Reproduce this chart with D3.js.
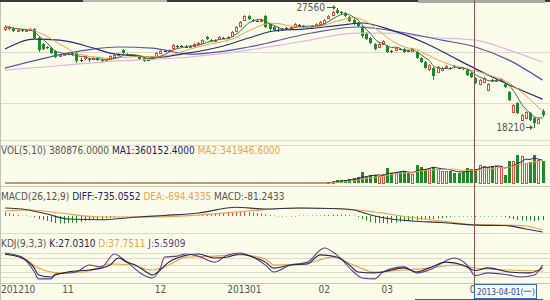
<!DOCTYPE html>
<html>
<head>
<meta charset="utf-8">
<script src="https://cdnjs.cloudflare.com/ajax/libs/d3/7.8.5/d3.min.js"></script>
<style>
  html, body { margin: 0; padding: 0; background: #fcfcea; }
  svg { display: block; }
</style>
</head>
<body>
<div id="chart"></div>
<script>
// month ticks and how many trading days each month has on the chart
var months = ["201210", "11", "12", "201301", "02", "03", "04"];
var monthDays = [15, 22, 20, 19, 15, 21, 17];

var opens = [25920,26000,26000,25770,25840,25770,25840,25920,25220,24750,
  24520,24440,24210,23820,23890,23970,24050,24050,23500,23660,
  23580,23580,23660,23500,23430,23580,23740,23890,24280,23970,
  23890,23820,23820,23660,23500,23580,23820,24050,24210,24210,
  24440,24600,24600,24520,24520,24600,24750,24830,25300,25060,
  24990,25140,25220,25220,25380,25770,26160,26620,26940,26620,
  26550,26550,26940,26310,26080,25840,25920,26000,26000,26160,
  26230,26160,26000,26000,26160,26310,26390,26780,27010,27400,
  27250,27170,26860,26620,26390,26080,25610,25220,24750,24520,
  24750,24600,24210,24280,24360,24360,24210,24210,24130,23660,
  23350,22800,22880,22570,22720,22960,22880,23040,22880,22880,
  22720,22490,22100,21630,21790,21160,21940,21870,21870,21630,
  21010,19450,20150,18820,18980,19370,18980,18590,19530];
var highs = [26230,26160,26080,25920,25920,25920,26000,26000,25300,24830,
  24600,24520,24280,23970,24050,24130,24130,24130,23660,23890,
  23660,23740,23740,23580,23580,23890,23970,24050,24360,24050,
  23970,23890,23890,23740,23580,23820,24130,24280,24280,24360,
  24750,24670,24670,24670,24670,24830,24910,25140,25380,25140,
  25140,25380,25300,25380,25770,26160,26550,27010,27010,26700,
  26620,26700,27010,26390,26160,26000,26000,26080,26160,26390,
  26310,26230,26080,26230,26390,26550,26700,27010,27330,27560,
  27330,27250,26940,26700,26470,26160,25690,25300,24830,24830,
  25060,24670,24280,24520,24440,24440,24280,24440,24210,23740,
  23430,23190,22960,23040,22960,23110,22960,23110,22960,22960,
  22800,22570,22180,22020,22180,21710,22020,22020,22100,21710,
  21090,20070,20230,19290,19530,19450,19060,18980,19680];
var lows = [25770,25840,25690,25690,25690,25690,25770,25140,24130,24280,
  24360,23970,23660,23740,23820,23890,23820,23270,23350,23500,
  23350,23500,23430,23270,23350,23500,23660,23820,23970,23820,
  23740,23740,23500,23350,23430,23500,23740,23970,24130,24130,
  24360,24440,24520,24440,24440,24520,24670,24750,25060,24910,
  24910,25060,25140,25140,25300,25690,26080,26550,26620,26470,
  26470,26470,26000,25770,25770,25690,25770,25840,25920,26080,
  26160,26000,25920,25920,26080,26230,26310,26700,26940,27090,
  27090,26860,26470,26230,26080,25220,25060,24750,24280,24440,
  24670,24050,24050,24210,24280,24050,24130,24130,23580,23270,
  22800,22650,21940,22490,22650,22880,22800,22880,22800,22720,
  22260,22100,21630,21550,21710,21090,21790,21790,21790,21320,
  20310,19370,19290,18750,18900,18750,18210,18510,19060];
var closes = [26080,26080,25770,25840,25770,25840,25920,25220,24280,24360,
  24440,24050,23740,23890,23970,24050,23970,23430,23500,23820,
  23500,23660,23500,23430,23500,23820,23890,23970,24050,23890,
  23820,23820,23580,23430,23500,23740,24050,24210,24210,24280,
  24670,24600,24600,24520,24600,24750,24830,25060,25140,24990,
  25060,25300,25220,25300,25690,26080,26470,26940,26700,26550,
  26550,26620,26080,25920,25840,25840,25920,26000,26080,26310,
  26230,26080,26000,26160,26310,26470,26620,26940,27250,27170,
  27250,26940,26550,26310,26160,25380,25140,24830,24360,24750,
  24990,24130,24210,24440,24360,24130,24210,24360,23660,23350,
  22880,23110,22260,22960,22880,23040,22880,23040,22880,22800,
  22330,22180,21710,21940,22100,21630,21940,21940,22020,21400,
  20380,19990,19370,19210,19450,18820,18590,18900,19210];

var volumes = [0,0,0,0,0,0,0,0,0,0, 0,0,0,0,0,0,0,0,0,0,
  0,0,0,0,0,0,0,0,0,0, 0,0,0,0,0,0,0,0,0,0,
  0,0,0,0,0,0,0,0,0,0, 0,0,0,0,0,0,0,0,0,0,
  0,0,0,0,0,0,0,0,0,0, 0,0,0,0,0,0,0,
  27000,54000,82000,82000,82000,109000,136000,163000,299000,163000,
  218000,218000,190000,245000,408000,272000,299000,299000,326000,272000,
  245000,490000,435000,381000,408000,435000,381000,326000,326000,326000,
  272000,272000,299000,408000,381000,380876,490000,462000,435000,462000,
  462000,462000,218000,598000,598000,762000,734000,544000,571000,762000,
  626000,598000];

var macdBars = [320,240,160,80,40,40,-40,-120,-240,-320,
  -400,-480,-560,-600,-600,-560,-520,-560,-480,-400,
  -360,-320,-280,-240,-200,-160,-80,-40,-40,-40,
  -40,-40,-80,-80,-80,-40,40,40,40,40,
  80,40,40,40,40,40,80,120,120,120,
  160,200,200,240,280,320,320,360,320,280,
  240,200,160,80,40,-40,-40,-40,-40,-40,
  40,40,40,40,40,40,80,80,120,120,
  120,120,80,40,-80,-240,-360,-480,-560,-560,
  -560,-600,-560,-520,-480,-440,-400,-360,-360,-320,
  -280,-240,-240,-200,-160,-120,-80,-40,-40,-40,
  -40,-40,-81,-40,-40,-40,-40,-40,-40,-80,
  -160,-240,-320,-360,-360,-360,-400,-360,-320];

// long moving averages as [day index, price]
var ma20Pts = [[0,24360],[7,25140],[13,25060],[21,24440],[25,24050],[29,23890],[37,23740],
  [42,23970],[52,24600],[58,25220],[64,25770],[71,25920],[76,26080],[80,26230],[85,26390],
  [92,25840],[100,24830],[108,23500],[116,22180],[128,20460]];
var ma40Pts = [[0,22880],[15,24050],[21,24360],[27,24520],[35,24440],[44,23970],[58,24520],
  [73,25610],[84,26080],[94,25690],[104,25060],[112,24520],[120,23500],[128,21940]];
var ma60Pts = [[0,22720],[12,23040],[23,23350],[44,23740],[58,24280],[70,24910],[84,25610],
  [92,25610],[100,25300],[112,25060],[120,24280],[128,23350]];

var diffPts = [[0,640],[4,560],[10,160],[15,-240],[23,-300],[30,-120],[38,40],[46,240],[55,700],
  [62,560],[70,640],[78,600],[83,480],[87,80],[92,-240],[97,-400],[104,-520],[112,-735],
  [119,-760],[124,-1040],[128,-1280]];
var deaPts = [[0,400],[6,480],[13,240],[23,-80],[35,-80],[46,80],[58,400],[68,640],[81,560],
  [88,320],[96,-80],[106,-480],[112,-694],[118,-720],[124,-800],[128,-1120]];

var kPts = [[0,95],[4,79],[7,37],[8,8],[11,0],[12,8],[15,21],[20,29],[23,37],[25,50],[27,79],
  [29,62],[31,50],[34,17],[35,8],[37,29],[39,62],[41,79],[46,96],[50,79],[53,83],[56,96],
  [59,83],[62,62],[64,37],[68,50],[72,54],[75,92],[79,83],[82,50],[84,21],[88,17],[90,21],
  [95,38],[98,21],[101,38],[105,62],[109,50],[112,27.03],[115,38],[120,21],[125,17],[128,38]];
var dPts = [[0,95],[4,83],[8,37],[13,17],[19,21],[25,54],[30,50],[35,29],[39,50],[43,83],
  [50,87],[56,92],[62,75],[64,50],[72,58],[78,83],[83,50],[88,21],[95,29],[101,37],[107,50],
  [112,37.75],[120,29],[128,25]];
var jPts = [[0,100],[4,83],[7,21],[8,-8],[11,-8],[12,12],[17,21],[20,50],[23,42],[26,96],
  [29,62],[33,8],[35,-4],[37,38],[38,83],[41,87],[43,96],[46,87],[50,62],[53,92],[56,100],
  [59,83],[62,50],[64,21],[68,50],[72,62],[76,121],[79,92],[83,21],[85,-4],[88,-8],[90,21],
  [95,42],[98,17],[101,29],[107,79],[110,50],[112,5.59],[115,17],[120,8],[123,0],[126,8],[128,50]];

var gridPrices = [24130, 20150];
var kdjGrid = [0, 20, 50, 80, 100];

var volLegend = ["VOL(5,10) 380876.0000", "MA1:360152.4000", "MA2:341946.6000"];
var macdLegend = ["MACD(26,12,9)", "DIFF:-735.0552", "DEA:-694.4335", "MACD:-81.2433"];
var kdjLegend = ["KDJ(9,3,3)", "K:27.0310", "D:37.7511", "J:5.5909"];

var highMark = 27560, highIdx = 79;
var lowMark = 18210, lowIdx = 126;
var crossIdx = 112, crossDate = "2013-04-01(一)";

(function () {
    var W = 550, H = 300, bg = "#fcfcea";
    var FONT = "'Liberation Sans Narrow','DejaVu Sans Condensed','Liberation Sans',sans-serif";
    var RED = "#e6473e", GREEN = "#1f8a28", DOJI = "#2f4f2f";
    var GREY_TXT = "#555", NAVY = "#23235e", ORANGE = "#e8a24c", PURPLE = "#5c3f93";
    var GRID = "#dcdccb";

    var n = closes.length;
    var svg = d3.select("#chart").append("svg")
        .attr("width", W).attr("height", H)
        .style("font-family", FONT);
    svg.append("rect").attr("width", W).attr("height", H).attr("fill", bg);

    var x = d3.scaleLinear().domain([0, n - 1]).range([5, 542.6]);
    var cx = i => Math.round(x(i));

    var yPrice = d3.scaleLinear().domain([lowMark, highMark]).range([128, 8]);
    var yVol = d3.scaleLinear().domain([0, 1000000]).range([183, 146.2]);
    var yMacd = d3.scaleLinear().domain([-1600, 1280]).range([236, 200]);
    var yKdj = d3.scaleLinear().domain([0, 100]).range([277, 253]);

    // frame and grid
    var hline = (y, c) => svg.append("line").attr("x1", 0).attr("x2", W)
        .attr("y1", Math.round(y) + 0.5).attr("y2", Math.round(y) + 0.5)
        .attr("stroke", c).attr("stroke-width", 1);
    gridPrices.forEach(p => hline(yPrice(p), GRID));
    hline(140, GRID);
    hline(145, GRID);
    hline(186, "#c8c8b6");
    hline(233, GRID);
    kdjGrid.forEach(v => hline(yKdj(v), GRID));
    hline(283, "#c8c8b6");
    svg.append("line").attr("x1", 0.5).attr("x2", 0.5).attr("y1", 0).attr("y2", H)
        .attr("stroke", "#c4c4b4");
    // top border
    svg.append("rect").attr("x", 0).attr("y", 0).attr("width", W).attr("height", 2).attr("fill", "#3a3a3a");
    svg.append("rect").attr("x", 83).attr("y", 0).attr("width", 84).attr("height", 2).attr("fill", "#b8b8b0");
    svg.append("rect").attr("x", 418).attr("y", 0).attr("width", 127).attr("height", 3).attr("fill", "#a8a8a0");

    var rows = closes.map((c, i) => ({ i: i, o: opens[i], h: highs[i], l: lows[i], c: c, v: volumes[i] }));
    var dir = d => d.c > d.o ? 1 : (d.c < d.o ? -1 : 0);

    // ---- candles
    var gC = svg.append("g");
    rows.forEach(function (d) {
        var X = cx(d.i), t = dir(d);
        var col = t > 0 ? RED : (t < 0 ? GREEN : DOJI);
        gC.append("line").attr("x1", X + 0.5).attr("x2", X + 0.5)
            .attr("y1", yPrice(d.h)).attr("y2", yPrice(d.l)).attr("stroke", col);
        var top = yPrice(Math.max(d.o, d.c)), bot = yPrice(Math.min(d.o, d.c));
        if (t > 0) {
            gC.append("rect").attr("x", X - 0.5).attr("y", Math.round(top) + 0.5)
                .attr("width", 2).attr("height", Math.max(1, Math.round(bot - top)))
                .attr("fill", bg).attr("stroke", col);
        } else if (t < 0) {
            gC.append("rect").attr("x", X - 1).attr("y", top)
                .attr("width", 3).attr("height", Math.max(1, bot - top)).attr("fill", col);
        } else {
            gC.append("line").attr("x1", X - 1).attr("x2", X + 2)
                .attr("y1", Math.round(top) + 0.5).attr("y2", Math.round(top) + 0.5).attr("stroke", col);
        }
    });

    // moving averages
    var sma = function (arr, len) {
        return arr.map((v, i) => {
            var s = arr.slice(Math.max(0, i - len + 1), i + 1);
            return [i, d3.mean(s)];
        });
    };
    var ptsLine = (sy) => d3.line().x(d => x(d[0])).y(d => sy(d[1])).curve(d3.curveMonotoneX);
    var draw = function (pts, sy, col, w) {
        svg.append("path").attr("d", ptsLine(sy)(pts)).attr("fill", "none")
            .attr("stroke", col).attr("stroke-width", w || 1);
    };
    draw(ma60Pts, yPrice, "#e2b6df", 1.2);
    draw(ma40Pts, yPrice, "#5656b0", 1.2);
    draw(ma20Pts, yPrice, "#2c2c72", 1.2);
    draw(sma(closes, 10), yPrice, ORANGE, 1);
    draw(sma(closes, 5), yPrice, "#3c6a50", 1);

    // high / low marks
    var hx = cx(highIdx), hy = Math.round(yPrice(highMark)) - 1;
    svg.append("text").attr("x", hx - 12).attr("y", hy + 4).attr("text-anchor", "end")
        .attr("font-size", 10).attr("fill", "#555").text(highMark);
    svg.append("line").attr("x1", hx - 10).attr("x2", hx - 3).attr("y1", hy + 0.5).attr("y2", hy + 0.5).attr("stroke", "#555");
    svg.append("path").attr("d", "M" + (hx - 1) + "," + (hy + 0.5) + "l-3,-2.5l0,5z").attr("fill", "#555");

    var lx = cx(lowIdx), ly = Math.round(yPrice(lowMark)) - 1;
    svg.append("text").attr("x", lx - 9).attr("y", ly + 4).attr("text-anchor", "end")
        .attr("font-size", 10).attr("fill", "#555").text(lowMark);
    svg.append("line").attr("x1", lx - 8).attr("x2", lx - 3).attr("y1", ly + 0.5).attr("y2", ly + 0.5).attr("stroke", "#555");
    svg.append("path").attr("d", "M" + (lx - 1) + "," + (ly + 0.5) + "l-3,-2.5l0,5z").attr("fill", "#555");

    // ---- volume
    var gV = svg.append("g");
    rows.filter(d => d.v > 0).forEach(function (d) {
        var X = cx(d.i), t = dir(d);
        var top = yVol(d.v), base = yVol(0);
        if (t > 0) {
            gV.append("rect").attr("x", X - 0.5).attr("y", Math.round(top) + 0.5)
                .attr("width", 2).attr("height", Math.round(base - top))
                .attr("fill", bg).attr("stroke", RED);
        } else {
            gV.append("rect").attr("x", X - 1).attr("y", top)
                .attr("width", 3).attr("height", base - top).attr("fill", GREEN);
        }
    });
    draw(sma(volumes, 5), yVol, NAVY, 1);
    draw(sma(volumes, 10), yVol, ORANGE, 1);

    // ---- macd
    var gM = svg.append("g");
    macdBars.forEach(function (v, i) {
        gM.append("line").attr("x1", cx(i) + 0.5).attr("x2", cx(i) + 0.5)
            .attr("y1", yMacd(0)).attr("y2", yMacd(v))
            .attr("stroke", v > 0 ? RED : GREEN);
    });
    draw(deaPts, yMacd, ORANGE, 1.2);
    draw(diffPts, yMacd, "#33334a", 1.2);

    // ---- kdj
    draw(dPts, yKdj, ORANGE, 1.1);
    draw(jPts, yKdj, PURPLE, 1.1);
    draw(kPts, yKdj, "#222240", 1.1);

    // legends
    var legend = function (y, parts, cols) {
        var t = svg.append("text").attr("x", 1).attr("y", y).attr("font-size", 10);
        parts.forEach((p, k) => t.append("tspan").attr("fill", cols[k]).text((k ? " " : "") + p));
    };
    legend(154, volLegend, [GREY_TXT, NAVY, ORANGE]);
    legend(200, macdLegend, [GREY_TXT, NAVY, ORANGE, GREY_TXT]);
    legend(247, kdjLegend, [GREY_TXT, NAVY, ORANGE, PURPLE]);

    // crosshair position
    var X = cx(crossIdx);

    // x axis month labels (the one under the date tag is cut at the tag)
    svg.append("clipPath").attr("id", "axclip").append("rect")
        .attr("x", 0).attr("y", 280).attr("width", X - 1).attr("height", 20);
    var start = 0;
    months.forEach(function (m, k) {
        svg.append("text").attr("x", k === 0 ? 1 : x(start)).attr("y", 293)
            .attr("text-anchor", k === 0 ? "start" : "middle")
            .attr("clip-path", "url(#axclip)")
            .attr("font-size", 10).attr("fill", GREY_TXT).text(m);
        start += monthDays[k];
    });

    // crosshair + date tag
    svg.append("line").attr("x1", X - 0.5).attr("x2", X - 0.5).attr("y1", 0).attr("y2", 284)
        .attr("stroke", "#8c5454");
    svg.append("rect").attr("x", X - 0.5).attr("y", 284.5).attr("width", 62).attr("height", 14)
        .attr("fill", "#f6f8fc").attr("stroke", "#3a66c4");
    svg.append("text").attr("x", X + 2).attr("y", 295)
        .attr("textLength", 58).attr("lengthAdjust", "spacingAndGlyphs")
        .attr("font-size", 9.5).attr("fill", "#2a4a96").text(crossDate);
    svg.append("rect").attr("x", 415).attr("y", 299).attr("width", 128).attr("height", 1).attr("fill", "#555");
})();
</script>
</body>
</html>
